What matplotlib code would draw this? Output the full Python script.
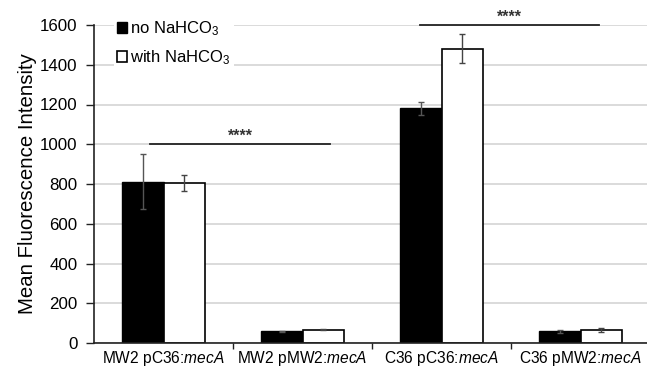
import matplotlib
matplotlib.use("Agg")
import matplotlib.pyplot as plt
import numpy as np

plt.rcParams['font.family'] = ['Liberation Sans', 'DejaVu Sans']
plt.rcParams['mathtext.fontset'] = 'custom'
plt.rcParams['mathtext.rm'] = 'Liberation Sans'
plt.rcParams['mathtext.it'] = 'Liberation Sans:italic'

categories = ["MW2 pC36:$\\mathit{mecA}$", "MW2 pMW2:$\\mathit{mecA}$",
              "C36 pC36:$\\mathit{mecA}$", "C36 pMW2:$\\mathit{mecA}$"]
no_nahco3 = [811, 58, 1181, 58]
no_err = [138, 3, 32, 9]
with_nahco3 = [806, 67, 1481, 65]
with_err = [40, 3, 72, 9]
series_labels = ["no NaHCO$_3$", "with NaHCO$_3$"]
yticks = [0, 200, 400, 600, 800, 1000, 1200, 1400, 1600]
sig_lines = [(-0.097, 1.198, 1000), (1.845, 3.133, 1600)]
sig_text = "****"

W, H = 647, 369
fig = plt.figure(figsize=(W / 100, H / 100), dpi=100)
ax = fig.add_axes([94 / W, 26 / H, 556 / W, 318 / H])

x = np.arange(len(categories))
bw = 0.295
b1 = ax.bar(x - bw / 2, no_nahco3, bw, color='black', edgecolor='black',
            linewidth=1, zorder=2, label=series_labels[0])
b2 = ax.bar(x + bw / 2, with_nahco3, bw, color='white', edgecolor='black',
            linewidth=1.2, zorder=2, label=series_labels[1])
ax.errorbar(x - bw / 2, no_nahco3, yerr=no_err, fmt='none', ecolor='#555555',
            elinewidth=1, capsize=2.5, capthick=1, zorder=3)
ax.errorbar(x + bw / 2, with_nahco3, yerr=with_err, fmt='none', ecolor='#444444',
            elinewidth=1, capsize=2.5, capthick=1, zorder=3)

for x0, x1, yv in sig_lines:
    ax.plot([x0, x1], [yv, yv], color='#222222', lw=1.3, zorder=4, clip_on=False)
    ax.text((x0 + x1) / 2, yv + 40, sig_text, ha='center', va='center',
            fontsize=11.5, fontweight='bold', color='#333333', clip_on=False)

ax.set_xlim(-0.5, 3.5)
ax.set_ylim(0, 1600)
ax.set_yticks(yticks)
ax.set_yticklabels([str(v) for v in yticks])
ax.set_xticks(x)
ax.set_xticklabels(categories)
ax.set_xticks(x[:-1] + 0.5, minor=True)
ax.tick_params(axis='x', which='major', length=0, pad=4.5, labelsize=11.2)
ax.tick_params(axis='x', which='minor', length=4, width=1, direction='out', color='#222222')
ax.tick_params(axis='y', length=6, width=1, direction='out', pad=6, labelsize=12.2,
               color='#222222')

ax.grid(axis='y', color='#d4d4d4', lw=1.2, zorder=0)
ax.set_axisbelow(True)
for s in ['top', 'right']:
    ax.spines[s].set_visible(False)
for s in ['left', 'bottom']:
    ax.spines[s].set_color('#222222')
    ax.spines[s].set_linewidth(1.2)

ax.set_ylabel("Mean Fluorescence Intensity", fontsize=14.7)
ax.yaxis.set_label_coords(-0.1025, 0.5)

leg = ax.legend(handles=[b1, b2], loc='upper left',
                bbox_to_anchor=(114 / W, 1 - 16 / H), bbox_transform=fig.transFigure,
                fontsize=12, frameon=True, facecolor='white', edgecolor='none',
                framealpha=1, fancybox=False, borderpad=0.2, borderaxespad=0,
                handlelength=0.57, handleheight=0.57, handletextpad=0.2,
                labelspacing=0.62)
leg.set_zorder(5)

fig.savefig("out.png", dpi=100)
